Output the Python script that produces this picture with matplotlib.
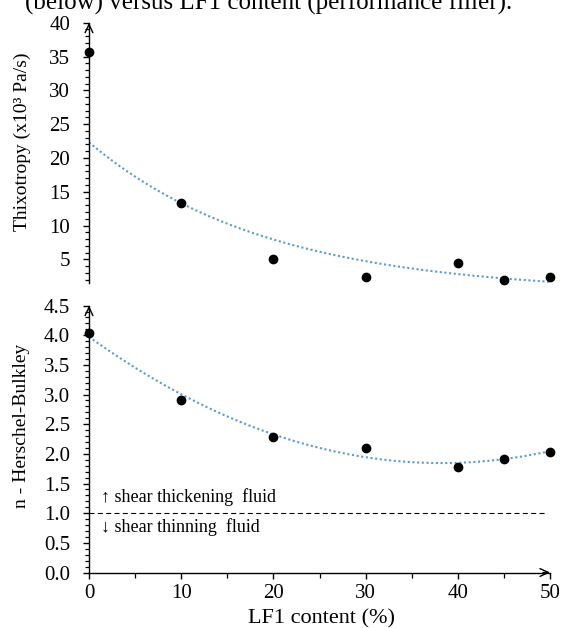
import numpy as np
import matplotlib
matplotlib.use("Agg")
import matplotlib.pyplot as plt
from matplotlib.ticker import MultipleLocator, FixedLocator, FormatStrFormatter

plt.rcParams['font.family'] = ['Liberation Serif', 'DejaVu Serif']

# Measured values
lf1_content = [0, 10, 20, 30, 40, 45, 50]
thixotropy = [35.6, 13.4, 5.0, 2.4, 4.4, 1.9, 2.4]
n_herschel_bulkley = [4.03, 2.91, 2.28, 2.10, 1.78, 1.92, 2.04]

x_ticks = [0, 10, 20, 30, 40, 50]
thix_ticks = [5, 10, 15, 20, 25, 30, 35, 40]
n_ticks = [0.0, 0.5, 1.0, 1.5, 2.0, 2.5, 3.0, 3.5, 4.0, 4.5]
n_threshold = 1.0

title_text = "(below) versus LF1 content (performance filler)."
xlabel_text = "LF1 content (%)"
thix_label = "Thixotropy (x10³ Pa/s)"
n_label = "n - Herschel-Bulkley"
above_text = "↑ shear thickening  fluid"
below_text = "↓ shear thinning  fluid"

W, H = 565, 628
fig = plt.figure(figsize=(W / 100, H / 100), dpi=100)


def px_rect(left, top, right, bottom):
    return [left / W, 1 - bottom / H, (right - left) / W, (bottom - top) / H]


ax1 = fig.add_axes(px_rect(89, 22.7, 550, 283))
ax2 = fig.add_axes(px_rect(89, 305.6, 550, 572.5))

trend_color = '#5B9BD5'
tick_fs = 15
arrow_style = '->,head_length=0.6,head_width=0.28'

# Exponential trend for thixotropy, quadratic for n
x = np.asarray(lf1_content, dtype=float)
b_exp, a_exp = np.polyfit(x, np.log(thixotropy), 1)
coef_n = np.polyfit(x, n_herschel_bulkley, 2)
xs = np.linspace(0, 50, 300)

ax1.plot(xs, np.exp(a_exp + b_exp * xs), color=trend_color, lw=1.5,
         linestyle=(0, (1, 1.25)), zorder=2)
ax1.plot(lf1_content, thixotropy, 'o', color='black', ms=6, zorder=3,
         clip_on=False)

ax2.plot(xs, np.polyval(coef_n, xs), color=trend_color, lw=1.5,
         linestyle=(0, (1, 1.25)), zorder=2)
ax2.plot(lf1_content, n_herschel_bulkley, 'o', color='black', ms=6,
         zorder=3, clip_on=False)
ax2.axhline(n_threshold, xmin=0, xmax=0.99, color='black', lw=0.8,
            linestyle=(0, (4.5, 3.0)), zorder=1)

ax2.text(1.35, 1.28, above_text, fontsize=13, va='center', ha='left')
ax2.text(1.35, 0.77, below_text, fontsize=13, va='center', ha='left')

for ax in (ax1, ax2):
    ax.set_xlim(0, 50)
    ax.spines['top'].set_visible(False)
    ax.spines['right'].set_visible(False)
    ax.spines['left'].set_linewidth(1.0)
    ax.tick_params(axis='y', which='major', direction='out', length=4,
                   width=1.0, pad=9.5, labelsize=tick_fs)
    ax.tick_params(axis='y', which='minor', direction='out', length=3,
                   width=0.9)
    ax.set_facecolor('none')
    ax.annotate('', xy=(0, 1.0), xycoords='axes fraction',
                xytext=(0, 0.985), textcoords='axes fraction',
                arrowprops=dict(arrowstyle=arrow_style, lw=1.0,
                                color='black', shrinkA=0, shrinkB=0),
                annotation_clip=False)

# Upper panel: only the vertical axis is drawn
ax1.set_ylim(1.5, 40)
ax1.spines['bottom'].set_visible(False)
ax1.tick_params(axis='x', which='both', bottom=False, labelbottom=False)
ax1.yaxis.set_major_locator(FixedLocator(thix_ticks))
ax1.yaxis.set_minor_locator(MultipleLocator(1))
ax1.yaxis.set_major_formatter(FormatStrFormatter('%d'))

# Lower panel
ax2.set_ylim(0, 4.5)
ax2.spines['bottom'].set_linewidth(1.0)
ax2.yaxis.set_major_locator(FixedLocator(n_ticks))
ax2.yaxis.set_minor_locator(MultipleLocator(0.1))
ax2.yaxis.set_major_formatter(FormatStrFormatter('%.1f'))
ax2.xaxis.set_major_locator(FixedLocator(x_ticks))
ax2.xaxis.set_minor_locator(MultipleLocator(5))
ax2.xaxis.set_major_formatter(FormatStrFormatter('%d'))
ax2.tick_params(axis='x', which='major', direction='out', length=4.3,
                width=1.0, pad=4, labelsize=tick_fs)
ax2.tick_params(axis='x', which='minor', direction='out', length=3.5,
                width=0.9)
ax2.annotate('', xy=(1.0, 0), xycoords='axes fraction',
             xytext=(0.985, 0), textcoords='axes fraction',
             arrowprops=dict(arrowstyle=arrow_style, lw=1.0,
                             color='black', shrinkA=0, shrinkB=0),
             annotation_clip=False)

fig.text(25 / W, 1 - 9.5 / H, title_text, fontsize=18, ha='left',
         va='baseline')
fig.text(22 / W, 1 - 142 / H, thix_label, fontsize=14, rotation=90,
         ha='center', va='center')
fig.text(22 / W, 1 - 426 / H, n_label, fontsize=14, rotation=90,
         ha='center', va='center')
fig.text(321 / W, 1 - 619 / H, xlabel_text, fontsize=16, ha='center',
         va='center')

fig.savefig('out.png', dpi=100)
